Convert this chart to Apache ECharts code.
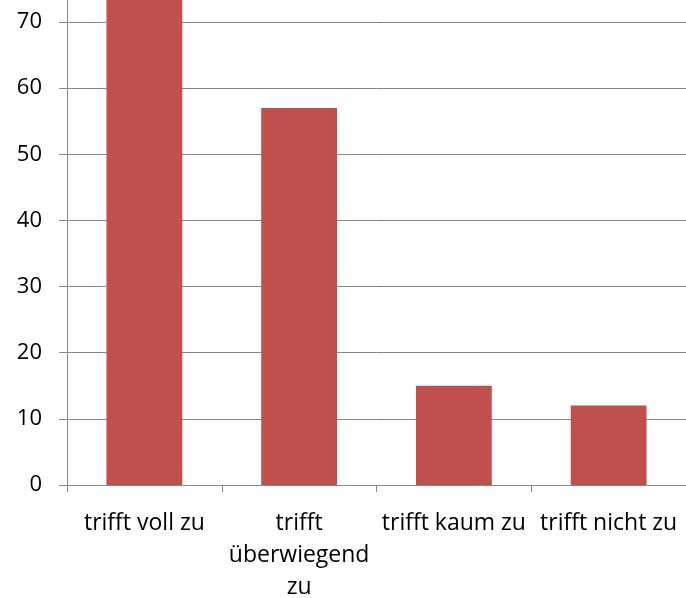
<!DOCTYPE html>
<html>
<head>
<meta charset="utf-8">
<script src="https://cdn.jsdelivr.net/npm/echarts@6/dist/echarts.min.js"></script>
<style>
  html, body { margin: 0; padding: 0; background: #fff; }
  #chart { width: 686px; height: 598px; }
</style>
</head>
<body>
<div id="chart"></div>
<script>
// Antwortkategorien und Häufigkeiten
const categories = ['trifft voll zu', 'trifft überwiegend zu', 'trifft kaum zu', 'trifft nicht zu'];
const values = [76, 57, 15, 12];
const yMin = 0;
const yMax = 80;
const yStep = 10;

const chart = echarts.init(document.getElementById('chart'), null, { renderer: 'canvas' });
const axisGray = '#888888';
const font = '"Open Sans", "Liberation Sans", sans-serif';

chart.setOption({
  animation: false,
  grid: {
    left: 67, right: 0, top: -44.2, bottom: 113,
    containLabel: false,
    outerBoundsMode: 'none'
  },
  xAxis: {
    type: 'category',
    data: categories,
    axisLine: { lineStyle: { color: axisGray, width: 1 } },
    axisTick: { show: true, length: 7, alignWithLabel: false, lineStyle: { color: axisGray } },
    axisLabel: {
      interval: 0,
      margin: 22,
      color: '#000',
      fontFamily: font,
      fontSize: 23,
      lineHeight: 32,
      hideOverlap: false,
      formatter: function (v) {
        return v.length > 16 ? v.split(' ').join('\n') : v;
      }
    }
  },
  yAxis: {
    type: 'value',
    min: yMin,
    max: yMax,
    interval: yStep,
    axisLine: { show: true, lineStyle: { color: axisGray, width: 1 } },
    axisTick: { show: true, length: 8, lineStyle: { color: axisGray } },
    splitLine: { show: true, lineStyle: { color: axisGray, width: 1 } },
    axisLabel: { margin: 25, color: '#000', fontFamily: font, fontSize: 22 }
  },
  series: [{
    type: 'bar',
    data: values,
    barWidth: '49%',
    itemStyle: { color: '#C0504D' }
  }]
});
</script>
</body>
</html>
